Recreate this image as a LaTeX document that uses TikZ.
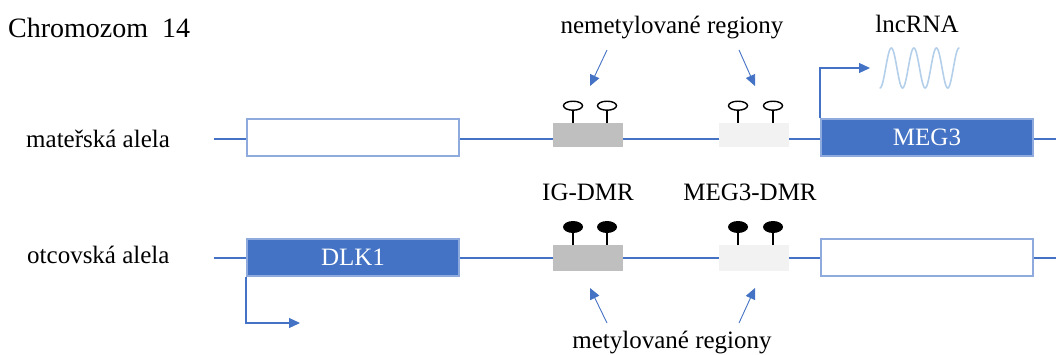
\documentclass[tikz,border=0pt]{standalone}
\usepackage{fontspec}
\setmainfont{Liberation Serif}
\usetikzlibrary{arrows.meta,shapes.geometric}
\definecolor{accent}{HTML}{4472C4}
\definecolor{boxedge}{HTML}{8FAADC}
\definecolor{dmrdark}{HTML}{BFBFBF}
\definecolor{dmrlight}{HTML}{F2F2F2}
\definecolor{wavecol}{HTML}{B4CFEA}

\begin{document}
\begin{tikzpicture}[x=1pt,y=-1pt,
  strand/.style={accent, line width=1.3pt},
  gene/.style={draw=boxedge, line width=2pt, minimum width=212pt, minimum height=37pt,
               inner sep=0pt, fill=white, font=\fontsize{25}{30}\selectfont},
  geneon/.style={gene, fill=accent, text=white},
  dmr/.style={draw=none, minimum width=70pt, inner sep=0pt},
  pin/.style={black, line width=1.1pt},
  openhead/.style={ellipse, draw=black, line width=1.4pt, fill=white,
                   minimum width=19pt, minimum height=9pt, inner sep=0pt},
  fullhead/.style={ellipse, fill=black, minimum width=20pt, minimum height=12pt, inner sep=0pt},
  label/.style={font=\fontsize{25}{30}\selectfont, anchor=base, inner sep=0pt},
  pointer/.style={accent, line width=0.9pt, -{Triangle[length=11pt,width=10pt]}},
  promoter/.style={accent, line width=1.2pt, -{Triangle[length=11pt,width=10pt]}},
]
\useasboundingbox (0,0) rectangle (1056,354);

% title and row labels
\node[label, anchor=base west, font=\fontsize{28}{32}\selectfont] (title) at (8,37) {Chromozom\ \ 14};
\node[label, anchor=base west] (matlab) at (26,147) {mateřská alela};
\node[label, anchor=base west] (patlab) at (27,263) {otcovská alela};

% chromosome strands
\coordinate (mL) at (214,139);
\coordinate (mR) at (1056,139);
\coordinate (pL) at (214,258);
\coordinate (pR) at (1056,258);
\draw[strand] (mL) -- (mR);
\draw[strand] (pL) -- (pR);

% maternal allele
\node[gene]   (dlkM) at (353,137.5) {};
\node[dmr, fill=dmrdark,  minimum height=24pt] (igM)  at (588,135) {};
\node[dmr, fill=dmrlight, minimum height=24pt] (megdM) at (753.5,135) {};
\node[geneon] (meg3) at (927,137.5) {MEG3};

% paternal allele
\node[geneon] (dlk1) at (353,257.5) {DLK1};
\node[dmr, fill=dmrdark,  minimum height=26pt] (igP)  at (588,258) {};
\node[dmr, fill=dmrlight, minimum height=26pt] (megdP) at (753.5,258) {};
\node[gene]   (meg3P) at (927,257.5) {};

% unmethylated CpG sites (maternal)
\node[openhead] (o1) at (573,105.7) {};
\node[openhead] (o2) at (607,105.7) {};
\node[openhead] (o3) at (738,105.7) {};
\node[openhead] (o4) at (773,105.7) {};
\foreach \c/\b in {o1/igM, o2/igM, o3/megdM, o4/megdM}
  \draw[pin] (\c.south) -- (\c.south |- \b.north);

% methylated CpG sites (paternal)
\node[fullhead] (f1) at (573,227) {};
\node[fullhead] (f2) at (607,227) {};
\node[fullhead] (f3) at (738,227) {};
\node[fullhead] (f4) at (773,227) {};
\foreach \c/\b in {f1/igP, f2/igP, f3/megdP, f4/megdP}
  \draw[pin] (\c.south) -- (\c.south |- \b.north);

% region labels
\node[label] (nemet) at (672,33) {nemetylované regiony};
\node[label] (igl)   at (588,200) {IG-DMR};
\node[label] (megl)  at (750,200) {MEG3-DMR};
\node[label] (met)   at (672,348) {metylované regiony};
\node[label] (lnc)   at (917,32) {lncRNA};

% pointers to the regions
\coordinate (n1) at (607,50);  \coordinate (n1t) at (590,86);
\coordinate (n2) at (739,50);  \coordinate (n2t) at (755,86);
\coordinate (m1) at (607,323); \coordinate (m1t) at (590,288);
\coordinate (m2) at (739,323); \coordinate (m2t) at (755,288);
\draw[pointer] (n1) -- (n1t);
\draw[pointer] (n2) -- (n2t);
\draw[pointer] (m1) -- (m1t);
\draw[pointer] (m2) -- (m2t);

% transcription start sites
\coordinate (tssM) at (870,68);
\coordinate (tssP) at (300,323);
\draw[promoter] (meg3.north west) |- (tssM);
\draw[promoter] (dlk1.south west) |- (tssP);

% lncRNA transcript
\draw[wavecol, line width=1.6pt, line cap=round]
  plot[domain=0:3.5, samples=120, smooth] ({880+22.57*\x}, {68+20*cos(360*\x)});
\end{tikzpicture}
\end{document}
